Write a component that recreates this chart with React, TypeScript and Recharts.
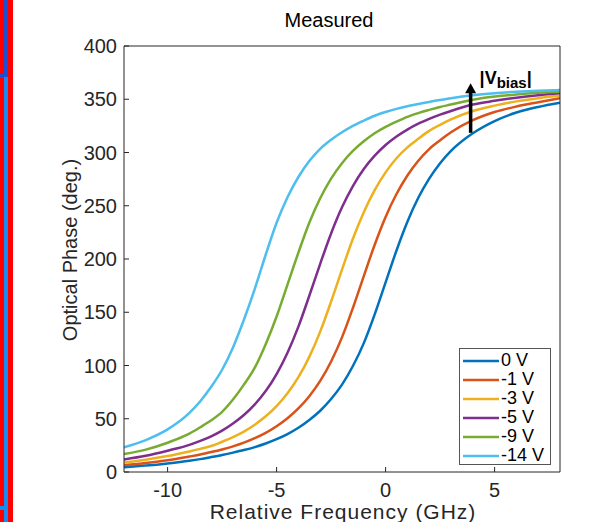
import React from "react";
import {
  LineChart,
  Line,
  XAxis,
  YAxis,
  Legend,
  ReferenceLine,
} from "recharts";

// frequency grid (GHz) and phase (deg.)
const freqGHz = [
  -12, -11, -10, -9, -8.5, -8, -7.5, -7, -6.5, -6, -5.5, -5, -4.5, -4, -3.5, -3,
  -2.5, -2, -1.5, -1, -0.5, 0, 0.5, 1, 1.5, 2, 2.5, 3, 4, 5, 6, 7, 8,
];
const phase0V = [
  4.5, 6, 8, 10.5, 12.1, 14, 16, 18.2, 20.6, 23.4, 26.8, 30.8, 35.6, 41.5, 48.8,
  57.5, 68.5, 82, 99.5, 121, 148, 178, 208, 235, 257.5, 275.5, 290, 301.5, 318,
  329.5, 337.5, 342.8, 346.8,
];
const phaseM1V = [
  6.5, 8.5, 11, 14.5, 16.4, 18.7, 21.2, 24.1, 27.6, 31.8, 36.8, 43, 50.5, 59.7,
  71.2, 85.5, 103.8, 126.4, 154, 184, 213.4, 239.5, 261, 278.4, 292.3, 303.2,
  311.5, 319, 330.3, 338, 343.2, 347.2, 351,
];
const phaseM3V = [
  9, 11.6, 15, 19.3, 21.7, 24.4, 28.4, 32.7, 37.9, 44.4, 52.3, 61.9, 73.9, 89,
  108.1, 131.8, 160, 190, 219, 244, 264.7, 281.3, 294.6, 304.8, 312.9, 320.3, 326,
  331, 339, 344, 348, 351, 353.5,
];
const phaseM5V = [
  11.8, 15.2, 20, 25.5, 29.2, 33.5, 38.8, 45.5, 53.5, 63.5, 76, 92, 112, 136.5,
  165.5, 195.5, 224, 248.5, 268.5, 284.5, 297, 307, 315, 321.5, 327, 331.5, 335.5,
  339, 345, 348.5, 351.5, 353.8, 355.6,
];
const phaseM9V = [
  16.8, 21, 27.5, 36, 42, 48.5, 56.5, 68, 82, 98, 120, 146, 176, 206, 234, 257,
  275.5, 290, 301.5, 310.5, 318, 324, 329, 333.5, 337, 340, 342.8, 345, 349.5,
  352.5, 354.5, 356, 357,
];
const phaseM14V = [
  23.2, 30, 40, 55.5, 66.5, 80, 96, 117, 143, 172, 204, 234, 258, 277, 292, 303.5,
  312, 319, 325, 330, 334.5, 338, 341, 343.5, 345.5, 347.5, 349.3, 351, 353.8,
  355.7, 357, 358, 358.7,
];

const biasLabels = ["0 V", "-1 V", "-3 V", "-5 V", "-9 V", "-14 V"];
const lineColors = ["#0072BD", "#D95319", "#EDB120", "#7E2F8E", "#77AC30", "#4DBEEE"];
const seriesValues = [phase0V, phaseM1V, phaseM3V, phaseM5V, phaseM9V, phaseM14V];

const xTicks = [-10, -5, 0, 5];
const yTicks = [0, 50, 100, 150, 200, 250, 300, 350, 400];

// arrow annotation: from the 0 V curve up past the -14 V curve
const arrowFrom = { x: 3.9, y: 318.5 };
const arrowTo = { x: 3.9, y: 365 };

const FONT = "'Liberation Sans', Arial, Helvetica, sans-serif";
const AXIS = "#262626";

const series = biasLabels.map((name, i) => ({
  key: "s" + i,
  name,
  color: lineColors[i],
}));

const data = freqGHz.map((f, i) => {
  const row: Record<string, number> = { f };
  seriesValues.forEach((vals, s) => {
    row["s" + s] = vals[i];
  });
  return row;
});

function ArrowShape(props: any) {
  const { x1, y1, x2, y2 } = props;
  if (x1 == null || y2 == null) return null;
  return (
    <g>
      <line x1={x1} y1={y1} x2={x2} y2={y2 + 8} stroke="#000" strokeWidth={3.5} />
      <polygon
        points={`${x2},${y2} ${x2 - 5.5},${y2 + 10} ${x2 + 5.5},${y2 + 10}`}
        fill="#000"
      />
      <text
        x={x2 + 9}
        y={y2 + 1}
        fontFamily={FONT}
        fontWeight="bold"
        fontSize={18}
        fill="#000"
      >
        |V
        <tspan fontSize={15} dy={4}>
          bias
        </tspan>
        <tspan fontSize={18} dy={-4}>
          |
        </tspan>
      </text>
    </g>
  );
}

function LegendBox() {
  return (
    <div
      style={{
        border: "1px solid #555",
        background: "#fff",
        width: 92,
        height: 117,
        boxSizing: "border-box",
        paddingTop: 2,
        fontFamily: FONT,
        fontSize: 18,
        color: "#000",
      }}
    >
      {series.map((s) => (
        <div
          key={s.key}
          style={{ display: "flex", alignItems: "center", height: 19 }}
        >
          <svg width={36} height={4} style={{ marginLeft: 3, marginRight: 2 }}>
            <line x1={0} y1={2} x2={36} y2={2} stroke={s.color} strokeWidth={2.5} />
          </svg>
          <span style={{ lineHeight: "19px" }}>{s.name}</span>
        </div>
      ))}
    </div>
  );
}

export default function App() {
  return (
    <div
      style={{
        position: "absolute",
        left: 0,
        top: 0,
        width: 611,
        height: 522,
        background: "#fff",
        overflow: "hidden",
      }}
    >
      {/* cropped frame strip on the left edge */}
      <div style={{ position: "absolute", left: 0, top: 0, width: 13, height: 522, background: "#ff0000" }} />
      <div style={{ position: "absolute", left: 4, top: 0, width: 4, height: 77, background: "#1a4fd6" }} />
      <div style={{ position: "absolute", left: 0, top: 74, width: 8, height: 4, background: "#1a4fd6" }} />
      <div style={{ position: "absolute", left: 4, top: 77, width: 4, height: 445, background: "#168cf2" }} />
      <div style={{ position: "absolute", left: 0, top: 506, width: 8, height: 4, background: "#168cf2" }} />

      <LineChart
        width={611}
        height={522}
        data={data}
        margin={{ top: 45, right: 50, bottom: 20, left: 64 }}
      >
        <XAxis
          dataKey="f"
          type="number"
          domain={[-12, 8]}
          ticks={xTicks}
          allowDataOverflow
          height={30}
          stroke={AXIS}
          tickSize={-5}
          tickMargin={16}
          tick={{ fill: AXIS, fontSize: 20, fontFamily: FONT }}
        />
        <XAxis
          xAxisId="top"
          orientation="top"
          dataKey="f"
          type="number"
          domain={[-12, 8]}
          ticks={xTicks}
          allowDataOverflow
          height={1}
          stroke={AXIS}
          tickSize={-5}
          tick={false}
        />
        <YAxis
          type="number"
          domain={[0, 400]}
          ticks={yTicks}
          allowDataOverflow
          width={60}
          stroke={AXIS}
          tickSize={-5}
          tickMargin={12}
          tick={{ fill: AXIS, fontSize: 20, fontFamily: FONT }}
        />
        <YAxis
          yAxisId="right"
          orientation="right"
          type="number"
          domain={[0, 400]}
          ticks={yTicks}
          allowDataOverflow
          width={1}
          stroke={AXIS}
          tickSize={-5}
          tick={false}
        />

        {series.map((s) => (
          <Line
            key={s.key}
            type="monotone"
            dataKey={s.key}
            name={s.name}
            stroke={s.color}
            strokeWidth={2.5}
            dot={false}
            activeDot={false}
            isAnimationActive={false}
          />
        ))}

        <ReferenceLine
          segment={[arrowFrom, arrowTo]}
          stroke="#000"
          shape={(p: any) => <ArrowShape {...p} />}
        />

        <Legend
          layout="vertical"
          align="center"
          verticalAlign="middle"
          content={() => <LegendBox />}
          wrapperStyle={{ left: 459, top: 348, width: 93, height: 118 }}
        />
      </LineChart>

      <svg
        width={611}
        height={522}
        style={{ position: "absolute", left: 0, top: 0, pointerEvents: "none" }}
      >
        <text x={329} y={27} textAnchor="middle" fontFamily={FONT} fontSize={20} fill="#000">
          Measured
        </text>
        <text
          x={343}
          y={519}
          textAnchor="middle"
          fontFamily={FONT}
          fontSize={21}
          letterSpacing={1}
          fill={AXIS}
        >
          Relative Frequency (GHz)
        </text>
        <text
          x={0}
          y={0}
          transform="translate(77,250) rotate(-90)"
          textAnchor="middle"
          fontFamily={FONT}
          fontSize={20}
          fill={AXIS}
        >
          Optical Phase (deg.)
        </text>
      </svg>
    </div>
  );
}
